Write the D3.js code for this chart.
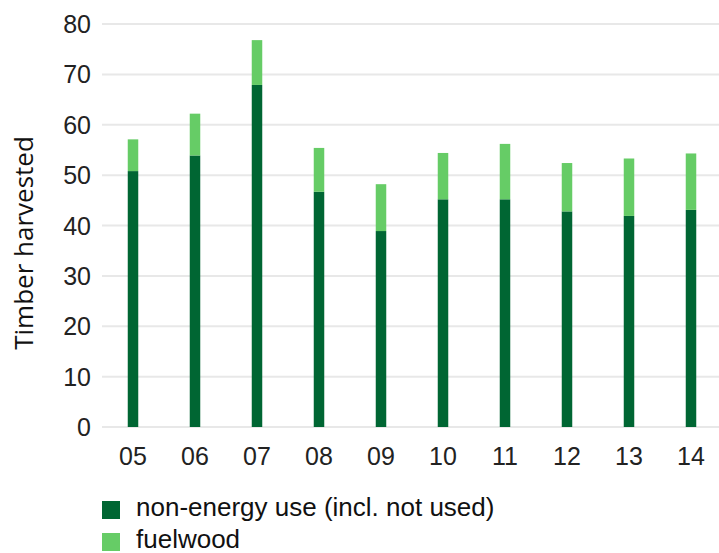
<!DOCTYPE html>
<html>
<head>
<meta charset="utf-8">
<script src="https://cdn.jsdelivr.net/npm/d3@7"></script>
<style>
  html, body { margin: 0; padding: 0; background: #fff; }
  svg { display: block; }
</style>
</head>
<body>
<svg id="chart" width="719" height="553"></svg>
<script>
const categories = ["05", "06", "07", "08", "09", "10", "11", "12", "13", "14"];
const nonEnergy = [50.8, 53.9, 67.9, 46.7, 38.9, 45.2, 45.2, 42.8, 41.9, 43.1];
const fuelwood  = [6.3, 8.3, 8.9, 8.7, 9.3, 9.2, 11.0, 9.6, 11.4, 11.2];
const yTicks = [0, 10, 20, 30, 40, 50, 60, 70, 80];
const seriesNames = ["non-energy use (incl. not used)", "fuelwood"];
const seriesColors = ["#006633", "#66cc66"];

const svg = d3.select("#chart");
const x = d3.scaleBand().domain(categories).range([102, 722]);
const y = d3.scaleLinear().domain([0, 80]).range([427, 24]);
const barW = 10.5;

// gridlines
svg.append("g").selectAll("line").data(yTicks).join("line")
  .attr("x1", 102).attr("x2", 719)
  .attr("y1", d => y(d)).attr("y2", d => y(d))
  .attr("stroke", "#e8e8e8").attr("stroke-width", 2);

// y tick labels
svg.append("g").selectAll("text").data(yTicks).join("text")
  .attr("x", 91).attr("y", d => y(d)).attr("dy", "0.36em")
  .attr("text-anchor", "end")
  .attr("font-family", "Liberation Sans, Arial, sans-serif")
  .attr("font-size", 25).attr("fill", "#222")
  .text(d => d);

// stacked bars
const rows = categories.map((c, i) => ({cat: c, nonEnergy: nonEnergy[i], fuelwood: fuelwood[i]}));
const stack = d3.stack().keys(["nonEnergy", "fuelwood"])(rows);
svg.append("g").selectAll("g").data(stack).join("g")
  .attr("fill", (d, i) => seriesColors[i])
  .selectAll("rect").data(d => d).join("rect")
  .attr("x", d => x(d.data.cat) + x.bandwidth() / 2 - barW / 2)
  .attr("width", barW)
  .attr("y", d => y(d[1]))
  .attr("height", d => y(d[0]) - y(d[1]));

// x labels
svg.append("g").selectAll("text").data(categories).join("text")
  .attr("x", d => x(d) + x.bandwidth() / 2).attr("y", 465)
  .attr("text-anchor", "middle")
  .attr("font-family", "Liberation Sans, Arial, sans-serif")
  .attr("font-size", 25).attr("fill", "#222")
  .text(d => d);

// y axis title
svg.append("text")
  .attr("transform", "translate(33,243) rotate(-90)")
  .attr("text-anchor", "middle")
  .attr("font-family", "Open Sans, sans-serif")
  .attr("font-size", 26).attr("fill", "#111")
  .text("Timber harvested");

// legend
const leg = svg.append("g").selectAll("g").data(seriesNames).join("g")
  .attr("transform", (d, i) => `translate(102,${501 + i * 32})`);
leg.append("rect").attr("width", 18).attr("height", 18)
  .attr("fill", (d, i) => seriesColors[i]);
leg.append("text").attr("x", 34).attr("y", 15)
  .attr("font-family", "Liberation Sans, Arial, sans-serif")
  .attr("font-size", 26).attr("fill", "#111")
  .text(d => d);
</script>
</body>
</html>
